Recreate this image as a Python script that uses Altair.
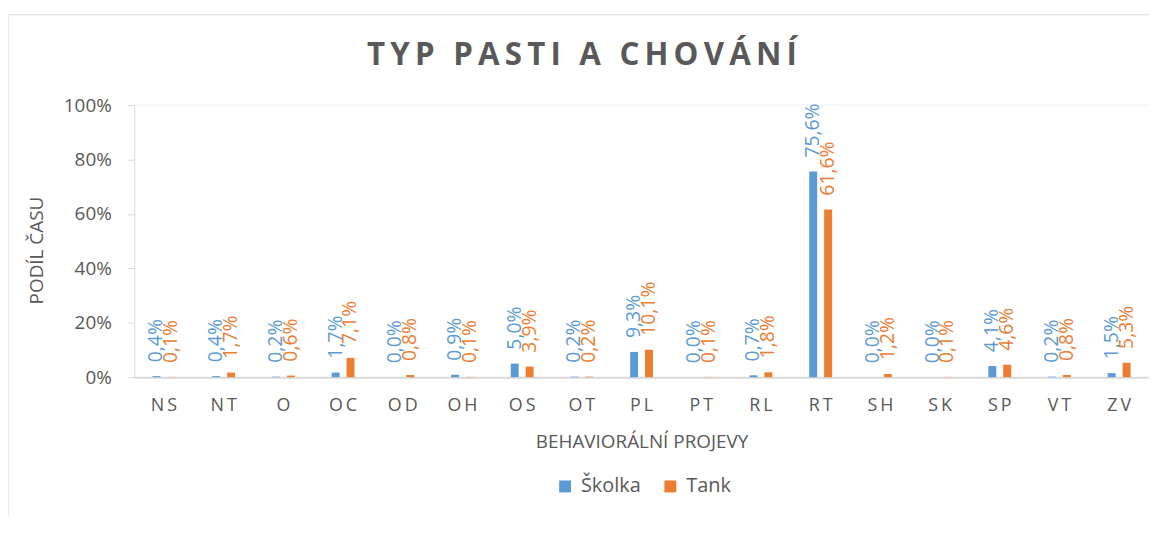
import altair as alt
import pandas as pd

categories = ["NS", "NT", "O", "OC", "OD", "OH", "OS", "OT", "PL", "PT", "RL", "RT", "SH", "SK", "SP", "VT", "ZV"]
skolka = [0.4, 0.4, 0.2, 1.7, 0.0, 0.9, 5.0, 0.2, 9.3, 0.0, 0.7, 75.6, 0.0, 0.0, 4.1, 0.2, 1.5]
tank = [0.1, 1.7, 0.6, 7.1, 0.8, 0.1, 3.9, 0.2, 10.1, 0.1, 1.8, 61.6, 1.2, 0.1, 4.6, 0.8, 5.3]
series_names = ["Školka", "Tank"]
series_colors = ["#5B9BD5", "#ED7D31"]
y_ticks = [0, 0.2, 0.4, 0.6, 0.8, 1.0]
chart_title = "TYP PASTI A CHOVÁNÍ"

rows = []
for name, vals in zip(series_names, [skolka, tank]):
    for c, v in zip(categories, vals):
        rows.append({"cat": c, "series": name, "val": v / 100.0,
                     "lab": f"{v:.1f}".replace(".", ",") + "%"})
df = pd.DataFrame(rows)

FONT = "Open Sans"
GREY = "#595959"
LINE = "#D9D9D9"
W, H = 1022, 274
BAND = W / len(categories)

x_enc = alt.X("cat:N", sort=categories, scale=alt.Scale(paddingInner=0, paddingOuter=0),
              axis=alt.Axis(title="BEHAVIORÁLNÍ PROJEVY", labelAngle=0, ticks=False,
                            labelExpr="join(split(datum.label, ''), '\u2009')",
                            labelFont=FONT, labelFontSize=18, labelColor=GREY, labelPadding=20,
                            domainColor=LINE, domainWidth=2,
                            titleFont=FONT, titleFontSize=19, titleFontWeight="normal",
                            titleColor=GREY, titleBaseline="alphabetic", titleY=71))
xo_enc = alt.XOffset("series:N", sort=series_names,
                     scale=alt.Scale(range=[BAND / 2 - 11.5, BAND / 2 + 11.5],
                                     paddingInner=0.4667, paddingOuter=0))
color_enc = alt.Color("series:N", sort=series_names,
                      scale=alt.Scale(domain=series_names, range=series_colors),
                      legend=alt.Legend(title=None, orient="none", direction="horizontal",
                                        legendX=424, legendY=374, symbolType="square",
                                        symbolSize=144, symbolStrokeWidth=0,
                                        labelFont=FONT, labelFontSize=20, labelColor=GREY,
                                        labelOffset=6, columnPadding=19))
y_enc = alt.Y("val:Q", scale=alt.Scale(domain=[0, 1]),
              axis=alt.Axis(title="PODÍL ČASU", format=".0%", values=y_ticks, grid=False,
                            labelFont=FONT, labelFontSize=19, labelColor=GREY, labelPadding=16,
                            tickSize=7, tickColor=LINE, domainColor=LINE,
                            titleFont=FONT, titleFontSize=19, titleFontWeight="normal",
                            titleColor=GREY, titleX=-98, titleY=146, titleAngle=270,
                            titleAlign="center", titleBaseline="middle"))

base = alt.Chart(df)
bars = base.mark_bar().encode(x=x_enc, xOffset=xo_enc, y=y_enc, color=color_enc)
labels = base.mark_text(angle=270, align="left", baseline="middle", dx=14,
                        font=FONT, fontSize=19.5).encode(
    x=x_enc, xOffset=xo_enc, y=y_enc, color=color_enc, text="lab:N")

top_line = alt.Chart(pd.DataFrame({"v": [1.0]})).mark_rule(color="#EEF3F9", strokeWidth=1).encode(
    y=alt.Y("v:Q", scale=alt.Scale(domain=[0, 1])))
border_left = alt.Chart(pd.DataFrame({"a": [0]})).mark_rule(color=LINE, strokeWidth=1).encode(
    x=alt.value(-127), y=alt.value(-91), y2=alt.value(H + 140))
border_top = alt.Chart(pd.DataFrame({"a": [0]})).mark_rule(color=LINE, strokeWidth=1).encode(
    x=alt.value(-127), x2=alt.value(W), y=alt.value(-91))

title_df = pd.DataFrame({"t": ["\u2009".join(list(chart_title))]})
title_mark = alt.Chart(title_df).mark_text(
    font=FONT, fontSize=31.5, fontWeight="bold", color=GREY, align="center",
    baseline="alphabetic").encode(x=alt.value(451), y=alt.value(-40), text="t:N")

chart = alt.layer(top_line, border_left, border_top, bars, labels, title_mark).properties(
    width=W, height=H,
    padding={"left": 127, "top": 96, "right": 0, "bottom": 140},
    autosize=alt.AutoSizeParams(type="none"),
).configure_view(stroke=None)

chart.save("out.html", embed_options={"renderer": "svg", "actions": False})
